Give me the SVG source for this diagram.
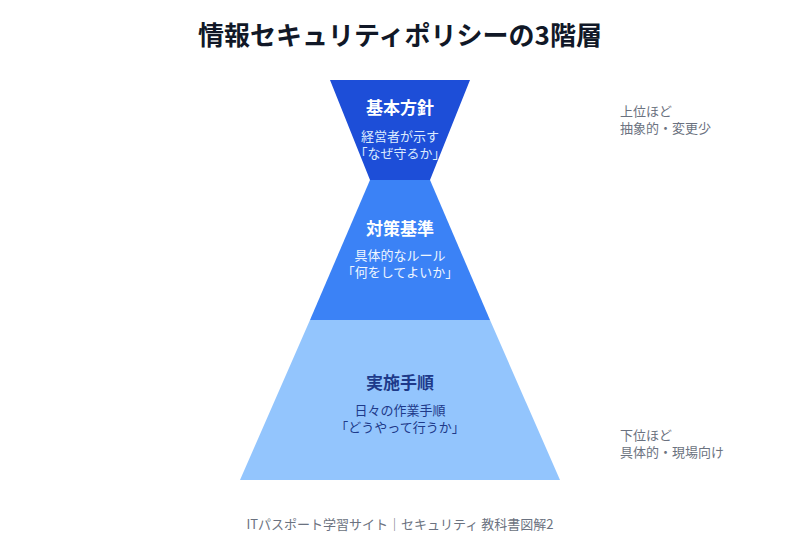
<svg xmlns="http://www.w3.org/2000/svg" width="800" height="560" viewBox="0 0 800 560">
<style>
text{font-family:"Noto Sans CJK JP","Noto Sans",sans-serif;text-anchor:middle}
.title{font-size:26px;font-weight:700;fill:#111827}
.h{font-size:17px;font-weight:700}
.s{font-size:13px}
.side{font-size:13px;fill:#6b7280;text-anchor:start}
.foot{font-size:13px;fill:#6b7280}
</style>
<rect width="800" height="560" fill="#ffffff"/>
<text class="title" x="400" y="45">情報セキュリティポリシーの3階層</text>
<g id="connectors"></g>
<g id="top">
<polygon points="330,80 470,80 430,180 370,180" fill="#1d4ed8"/>
<text class="h" x="400" y="114" fill="#ffffff">基本方針</text>
<text class="s" x="400" y="141" fill="#dbeafe">経営者が示す</text>
<text class="s" x="400" y="158" fill="#dbeafe">「なぜ守るか」</text>
</g>
<g id="middle">
<polygon points="370,180 430,180 490,320 310,320" fill="#3b82f6"/>
<text class="h" x="400" y="235" fill="#ffffff">対策基準</text>
<text class="s" x="400" y="260" fill="#eff6ff">具体的なルール</text>
<text class="s" x="400" y="277" fill="#eff6ff">「何をしてよいか」</text>
</g>
<g id="bottom">
<polygon points="310,320 490,320 560,480 240,480" fill="#93c5fd"/>
<text class="h" x="400" y="389" fill="#1e3a8a">実施手順</text>
<text class="s" x="400" y="415" fill="#1e3a8a">日々の作業手順</text>
<text class="s" x="400" y="432" fill="#1e3a8a">「どうやって行うか」</text>
</g>
<g id="label-top">
<text class="side" x="620" y="116">上位ほど</text>
<text class="side" x="620" y="133">抽象的・変更少</text>
</g>
<g id="label-bottom">
<text class="side" x="620" y="440">下位ほど</text>
<text class="side" x="620" y="457">具体的・現場向け</text>
</g>
<text class="foot" x="400" y="529">ITパスポート学習サイト｜セキュリティ 教科書図解2</text>
</svg>
